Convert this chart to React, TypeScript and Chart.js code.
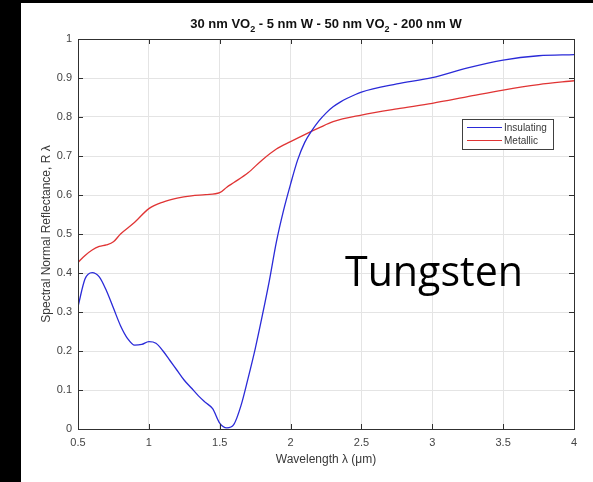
import React, { useEffect, useRef } from "react";
import { Chart, registerables } from "chart.js";

Chart.register(...registerables);

const insulatingX = [0.5, 0.55, 0.6, 0.65, 0.7, 0.75, 0.8, 0.85, 0.9, 0.95, 1.0, 1.05, 1.1, 1.15, 1.2, 1.25, 1.3, 1.35, 1.4, 1.45, 1.5, 1.55, 1.6, 1.65, 1.7, 1.75, 1.8, 1.85, 1.9, 1.95, 2.0, 2.05, 2.1, 2.15, 2.2, 2.25, 2.3, 2.35, 2.4, 2.5, 2.75, 3.0, 3.25, 3.5, 3.75, 4.0];
const insulatingY = [0.314, 0.385, 0.401, 0.39, 0.355, 0.31, 0.265, 0.232, 0.215, 0.217, 0.224, 0.22, 0.2, 0.175, 0.15, 0.125, 0.105, 0.085, 0.068, 0.052, 0.015, 0.003, 0.012, 0.06, 0.13, 0.205, 0.29, 0.38, 0.48, 0.56, 0.628, 0.69, 0.735, 0.765, 0.79, 0.81, 0.826, 0.838, 0.848, 0.864, 0.885, 0.901, 0.926, 0.946, 0.957, 0.96];

const metallicX = [0.5, 0.55, 0.6, 0.65, 0.7, 0.75, 0.8, 0.9, 1.0, 1.1, 1.2, 1.3, 1.4, 1.5, 1.55, 1.6, 1.7, 1.8, 1.9, 2.0, 2.1, 2.2, 2.3, 2.5, 2.75, 3.0, 3.25, 3.5, 3.75, 4.0];
const metallicY = [0.427, 0.445, 0.459, 0.468, 0.472, 0.48, 0.5, 0.53, 0.565, 0.582, 0.592, 0.598, 0.601, 0.606, 0.62, 0.632, 0.657, 0.69, 0.718, 0.737, 0.755, 0.772, 0.788, 0.805, 0.821, 0.835, 0.852, 0.869, 0.883, 0.893];

const xTicks = [0.5, 1, 1.5, 2, 2.5, 3, 3.5, 4];
const yTicks = [0, 0.1, 0.2, 0.3, 0.4, 0.5, 0.6, 0.7, 0.8, 0.9, 1];

const seriesNames = ["Insulating", "Metallic"];
const seriesColors = ["#2a2ad8", "#e03434"];

const titleParts: [string, boolean][] = [
  ["30 nm VO", false],
  ["2", true],
  [" - 5 nm W - 50 nm VO", false],
  ["2", true],
  [" - 200 nm W", false],
];
const xTitle = "Wavelength \u03bb (\u03bcm)";
const yTitle = "Spectral Normal Reflectance, R \u03bb";
const annotation = "Tungsten";

const FONT = "'Liberation Sans', Arial, Helvetica, sans-serif";
const AXIS = "#303030";

const overlayPlugin = {
  id: "overlay",
  beforeDraw(chart: any) {
    const ctx = chart.ctx;
    ctx.save();
    ctx.fillStyle = "#000";
    ctx.fillRect(0, 0, chart.width, chart.height);
    ctx.fillStyle = "#fff";
    ctx.fillRect(21, 3, chart.width - 21, chart.height - 3);
    ctx.restore();
  },
  afterDraw(chart: any) {
    const ctx = chart.ctx;
    const { left, right, top, bottom } = chart.chartArea;
    const xs = chart.scales.x;
    const ys = chart.scales.y;
    ctx.save();
    // box
    ctx.strokeStyle = AXIS;
    ctx.lineWidth = 1;
    ctx.beginPath();
    ctx.moveTo(left + 0.5, top + 0.5);
    ctx.lineTo(right + 0.5, top + 0.5);
    ctx.lineTo(right + 0.5, bottom + 0.5);
    ctx.lineTo(left + 0.5, bottom + 0.5);
    ctx.closePath();
    ctx.stroke();
    // inward ticks
    const tl = 5;
    ctx.beginPath();
    xTicks.forEach((v) => {
      const px = Math.round(xs.getPixelForValue(v)) + 0.5;
      ctx.moveTo(px, bottom);
      ctx.lineTo(px, bottom - tl);
      ctx.moveTo(px, top);
      ctx.lineTo(px, top + tl);
    });
    yTicks.forEach((v) => {
      const py = Math.round(ys.getPixelForValue(v)) + 0.5;
      ctx.moveTo(left, py);
      ctx.lineTo(left + tl, py);
      ctx.moveTo(right, py);
      ctx.lineTo(right - tl, py);
    });
    ctx.stroke();

    // title with subscripts
    const mainFont = `bold 13px ${FONT}`;
    const subFont = `bold 9px ${FONT}`;
    let total = 0;
    titleParts.forEach(([t, sub]) => {
      ctx.font = sub ? subFont : mainFont;
      total += ctx.measureText(t).width;
    });
    let cx = (left + right) / 2 - total / 2;
    ctx.fillStyle = "#111";
    ctx.textBaseline = "alphabetic";
    ctx.textAlign = "left";
    titleParts.forEach(([t, sub]) => {
      ctx.font = sub ? subFont : mainFont;
      ctx.fillText(t, cx, sub ? 32 : 28);
      cx += ctx.measureText(t).width;
    });

    // axis titles
    ctx.fillStyle = "#383838";
    ctx.font = `12px ${FONT}`;
    ctx.textAlign = "center";
    ctx.textBaseline = "middle";
    ctx.fillText(xTitle, (left + right) / 2, 460);
    ctx.save();
    ctx.translate(47, (top + bottom) / 2);
    ctx.rotate(-Math.PI / 2);
    ctx.fillText(yTitle, 0, 0);
    ctx.restore();

    // legend
    const lx = 462, ly = 119, lw = 91, lh = 30;
    ctx.fillStyle = "#fff";
    ctx.fillRect(lx, ly, lw, lh);
    ctx.strokeStyle = "#404040";
    ctx.lineWidth = 1;
    ctx.strokeRect(lx + 0.5, ly + 0.5, lw, lh);
    ctx.font = `10px ${FONT}`;
    ctx.textAlign = "left";
    ctx.textBaseline = "middle";
    seriesNames.forEach((name, i) => {
      const yy = ly + 8.5 + i * 13;
      ctx.strokeStyle = seriesColors[i];
      ctx.lineWidth = 1.2;
      ctx.beginPath();
      ctx.moveTo(lx + 5, yy);
      ctx.lineTo(lx + 40, yy);
      ctx.stroke();
      ctx.fillStyle = "#383838";
      ctx.fillText(name, lx + 42, yy + 0.5);
    });

    // annotation
    ctx.font = `40px 'Open Sans', 'Liberation Sans', sans-serif`;
    const w40 = ctx.measureText(annotation).width;
    const size = (40 * 178) / w40;
    ctx.font = `${size}px 'Open Sans', 'Liberation Sans', sans-serif`;
    ctx.fillStyle = "#000";
    ctx.textBaseline = "alphabetic";
    ctx.textAlign = "left";
    ctx.fillText(annotation, 345, 286);
    ctx.restore();
  },
};

export default function App() {
  const ref = useRef<HTMLCanvasElement | null>(null);
  useEffect(() => {
    document.body.style.margin = "0";
    document.body.style.background = "#000";
    const canvas = ref.current;
    if (!canvas) return;
    const chart = new Chart(canvas, {
      type: "line",
      data: {
        datasets: [
          {
            label: seriesNames[0],
            data: insulatingX.map((x, i) => ({ x, y: insulatingY[i] })),
            borderColor: seriesColors[0],
            borderWidth: 1.3,
            pointRadius: 0,
            cubicInterpolationMode: "monotone",
            fill: false,
          },
          {
            label: seriesNames[1],
            data: metallicX.map((x, i) => ({ x, y: metallicY[i] })),
            borderColor: seriesColors[1],
            borderWidth: 1.3,
            pointRadius: 0,
            cubicInterpolationMode: "monotone",
            fill: false,
          },
        ],
      },
      options: {
        responsive: false,
        animation: false,
        devicePixelRatio: 1,
        layout: { padding: { top: 39, right: 19, left: 0, bottom: 0 } },
        plugins: {
          legend: { display: false },
          title: { display: false },
          tooltip: { enabled: false },
        },
        scales: {
          x: {
            type: "linear",
            min: 0.5,
            max: 4,
            afterBuildTicks: (scale: any) => {
              scale.ticks = xTicks.map((v) => ({ value: v }));
            },
            afterFit: (scale: any) => {
              scale.height = 53;
            },
            ticks: {
              autoSkip: false,
              maxRotation: 0,
              padding: 7,
              color: "#444",
              font: { family: FONT, size: 11 },
              callback: (v: any) => String(Number(v)),
            },
            grid: { color: "#e4e4e4", drawTicks: false },
            border: { display: true, color: AXIS },
          },
          y: {
            type: "linear",
            min: 0,
            max: 1,
            afterBuildTicks: (scale: any) => {
              scale.ticks = yTicks.map((v) => ({ value: v }));
            },
            afterFit: (scale: any) => {
              scale.width = 78;
            },
            ticks: {
              autoSkip: false,
              padding: 6,
              color: "#444",
              font: { family: FONT, size: 11 },
              callback: (v: any) => String(Math.round(Number(v) * 10) / 10),
            },
            grid: { color: "#e4e4e4", drawTicks: false },
            border: { display: true, color: AXIS },
          },
        },
      },
      plugins: [overlayPlugin],
    } as any);
    return () => chart.destroy();
  }, []);
  return (
    <div style={{ position: "fixed", left: 0, top: 0, width: 593, height: 482 }}>
      <canvas ref={ref} width={593} height={482} style={{ display: "block", width: 593, height: 482 }} />
    </div>
  );
}
